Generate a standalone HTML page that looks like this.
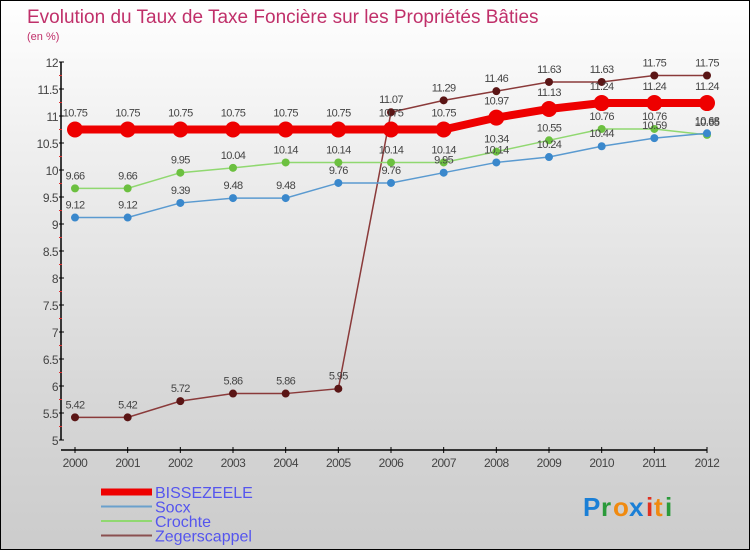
<!DOCTYPE html>
<html><head><meta charset="utf-8"><style>
html,body{margin:0;padding:0}
body{width:750px;height:550px;overflow:hidden;font-family:"Liberation Sans",sans-serif}
#wrap{position:relative;width:748px;height:548px;border:1px solid #000;background:linear-gradient(#ffffff 0%,#f0f0f0 25%,#d8d8d8 70%,#cccccc 100%)}
</style></head><body>
<div id="wrap">
<svg id="chart" width="748" height="548" xmlns="http://www.w3.org/2000/svg">
<text x="26" y="22" font-size="19" fill="#c0306a">Evolution du Taux de Taxe Foncière sur les Propriétés Bâties</text>
<text x="26" y="39" font-size="11" fill="#c0306a">(en %)</text>
<g id="axes"></g>
<g id="series"></g>
<g id="legend"></g>
<g font-size="26" font-weight="bold" font-family="Liberation Sans,sans-serif">
<text x="582" y="515" fill="#1a7fd6">P</text><text x="600" y="515" fill="#2a9a3a">r</text><text x="612" y="515" fill="#f08a10">o</text><text x="628" y="515" fill="#1a7fd6">x</text><text x="645" y="515" fill="#e03020">i</text><text x="653" y="515" fill="#f08a10">t</text><text x="664" y="515" fill="#2a9a3a">i</text>
</g>
</svg>
</div>
<script>
const years=["2000","2001","2002","2003","2004","2005","2006","2007","2008","2009","2010","2011","2012"];
const bissezeele=[10.75,10.75,10.75,10.75,10.75,10.75,10.75,10.75,10.97,11.13,11.24,11.24,11.24];
const socx=[9.12,9.12,9.39,9.48,9.48,9.76,9.76,9.95,10.14,10.24,10.44,10.59,10.68];
const crochte=[9.66,9.66,9.95,10.04,10.14,10.14,10.14,10.14,10.34,10.55,10.76,10.76,10.65];
const zegerscappel=[5.42,5.42,5.72,5.86,5.86,5.95,11.07,11.29,11.46,11.63,11.63,11.75,11.75];
const yTicks=["5","5.5","6","6.5","7","7.5","8","8.5","9","9.5","10","10.5","11","11.5","12"];
const NS="http://www.w3.org/2000/svg";
const yMin=5,yMax=12,yTop=61,yBot=439,xL=74,xR=706;
function X(i){return xL+(xR-xL)*i/(years.length-1);}
function Y(v){return yBot-(v-yMin)/(yMax-yMin)*(yBot-yTop);}
function mk(tag,attrs,parent){const e=document.createElementNS(NS,tag);for(const k in attrs)e.setAttribute(k,attrs[k]);parent.appendChild(e);return e;}
const axes=document.getElementById('axes');
let a=mk('line',{x1:60,y1:yTop,x2:60,y2:yBot,stroke:'#000','stroke-width':1.5},axes);


a=mk('line',{x1:60,y1:449,x2:xR,y2:449,stroke:'#000','stroke-width':1.5},axes);


yTicks.forEach((t,i)=>{
  const v=parseFloat(t),y=Y(v);
  mk('line',{x1:58,y1:y,x2:63,y2:y,stroke:'#000'},axes);
  const tx=mk('text',{x:57,y:y+5,'font-size':12,fill:'#444','text-anchor':'end','letter-spacing':'-0.5'},axes);
  tx.textContent=t;
  
  
  if(i<yTicks.length-1){mk('line',{x1:58,y1:Y(v+0.25),x2:61,y2:Y(v+0.25),stroke:'#e03030'},axes);}
});
years.forEach((yr,i)=>{
  const x=X(i);
  mk('line',{x1:x,y1:446,x2:x,y2:452,stroke:'#000'},axes);
  const tx=mk('text',{x:x,y:466,'font-size':12,fill:'#444','text-anchor':'middle','letter-spacing':'-0.5'},axes);
  tx.textContent=yr;
  
  
});
const series=[
 {name:'zegerscappel',data:zegerscappel,color:'#8a3a3a',dot:'#5a1515',w:1.5,r:4},
 {name:'crochte',data:crochte,color:'#90d870',dot:'#6cc040',w:1.5,r:4},
 {name:'socx',data:socx,color:'#5a9ad0',dot:'#3a88cc',w:1.5,r:4},
 {name:'bissezeele',data:bissezeele,color:'#ee0000',dot:'#ee0000',w:8,r:8}
];
const sg=document.getElementById('series');
series.forEach(s=>{
  const g=mk('g',{},sg);
  
  
  const p=mk('polyline',{points:s.data.map((v,i)=>X(i)+','+Y(v)).join(' '),fill:'none',stroke:s.color,'stroke-width':s.w},g);
  
  
  s.data.forEach((v,i)=>{
    const c=mk('circle',{cx:X(i),cy:Y(v),r:s.r,fill:s.dot},g);
    
    
    const t=mk('text',{x:X(i),y:Y(v)-(s.r+5),'font-size':11,fill:'#444','text-anchor':'middle','letter-spacing':'-0.6'},g);
    t.textContent=String(v);
    
    
  });
});
const lg=document.getElementById('legend');
const leg=[['BISSEZEELE','#ee0000',7],['Socx','#6aa0cc',2],['Crochte','#90d870',2],['Zegerscappel','#8a5050',2]];
leg.forEach((l,i)=>{
  const y=491+i*14.5;
  const g=mk('g',{},lg);
  
  
  mk('line',{x1:100,y1:y,x2:151,y2:y,stroke:l[1],'stroke-width':l[2]},g);
  const t=mk('text',{x:154,y:y+6,'font-size':16,fill:'#5555ee'},g);
  t.textContent=l[0];
});
</script>
</body></html>
